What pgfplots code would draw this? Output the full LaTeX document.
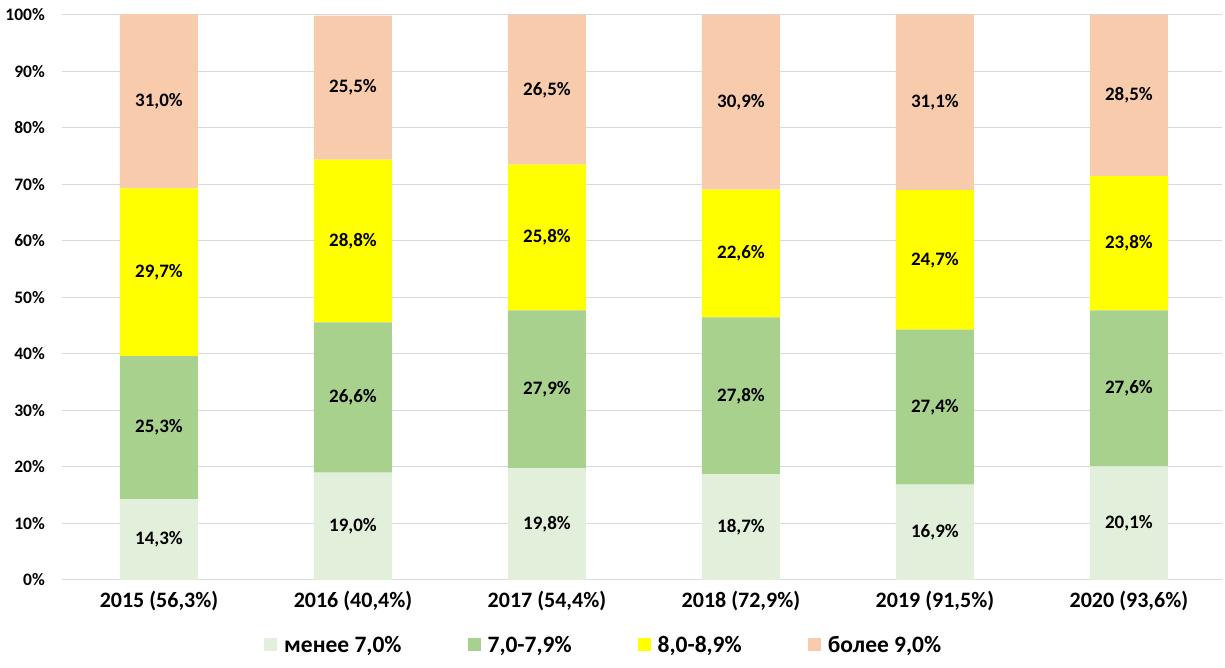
\documentclass[border=0pt]{standalone}
\usepackage{pgfplots}
\pgfplotsset{compat=1.18}
\usepackage{fontspec}
\setmainfont{Carlito}
\usetikzlibrary{calc}

\definecolor{cLow}{HTML}{E2EFDA}
\definecolor{cMid}{HTML}{A9D18E}
\definecolor{cHigh}{HTML}{FFFF00}
\definecolor{cTop}{HTML}{F8CBAD}
\definecolor{gridgray}{HTML}{D9D9D9}

\pgfplotsset{
  base/.style={
    width=1160pt, height=565pt, scale only axis,
    xmin=-0.5, xmax=5.48, ymin=0, ymax=100,
    /pgf/number format/assume math mode=true,
  }
}

\begin{document}
\begin{tikzpicture}
\begin{axis}[base, name=main,
  ybar stacked, bar width=78pt,
  axis line style={draw=none},
  tick style={draw=none},
  ymajorgrids, grid style={gridgray, line width=1pt},
  ytick={0,10,...,100},
  yticklabel={\pgfmathprintnumber{\tick}\%},
  yticklabel style={font=\fontsize{17.5}{19}\selectfont\bfseries, inner xsep=0pt, xshift=-17pt},
  xtick={0,...,5},
  xticklabels={{2015 (56,3\%)},{2016 (40,4\%)},{2017 (54,4\%)},{2018 (72,9\%)},{2019 (91,5\%)},{2020 (93,6\%)}},
  xticklabel style={font=\fontsize{22}{24}\selectfont\bfseries, yshift=-8pt},
  legend columns=4,
  legend style={draw=none, at={(0.467,-0.115)}, anchor=center,
    font=\fontsize{23.5}{25}\selectfont\bfseries,
    nodes={inner xsep=2pt},
    /tikz/every odd column/.append style={column sep=5pt},
    /tikz/every even column/.append style={column sep=64pt}},
  legend image code/.code={\fill[#1] (0pt,-6.5pt) rectangle (13pt,6.5pt);},
]
\addplot[fill=cLow, draw=none] coordinates {(0,14.3) (1,19.0) (2,19.8) (3,18.7) (4,16.9) (5,20.1)};
\addplot[fill=cMid, draw=none] coordinates {(0,25.3) (1,26.6) (2,27.9) (3,27.8) (4,27.4) (5,27.6)};
\addplot[fill=cHigh, draw=none] coordinates {(0,29.7) (1,28.8) (2,25.8) (3,22.6) (4,24.7) (5,23.8)};
\addplot[fill=cTop, draw=none] coordinates {(0,31.0) (1,25.5) (2,26.5) (3,30.9) (4,31.1) (5,28.5)};
\legend{менее 7{,}0\%, 7{,}0-7{,}9\%, 8{,}0-8{,}9\%, более 9{,}0\%}
\end{axis}

% value labels, centred in each segment
\begin{axis}[base, axis lines=none, ticks=none, clip=false]
\addplot[only marks, mark=none, point meta=explicit symbolic,
  nodes near coords, nodes near coords align=center,
  every node near coord/.append style={font=\fontsize{19}{21}\selectfont\bfseries, anchor=center}]
coordinates {
  (0,7.15)  [14,3\%] (0,26.95) [25,3\%] (0,54.45) [29,7\%] (0,84.65) [31,0\%]
  (1,9.5)   [19,0\%] (1,32.3)  [26,6\%] (1,60.0)  [28,8\%] (1,87.15) [25,5\%]
  (2,9.9)   [19,8\%] (2,33.75) [27,9\%] (2,60.6)  [25,8\%] (2,86.75) [26,5\%]
  (3,9.35)  [18,7\%] (3,32.6)  [27,8\%] (3,57.8)  [22,6\%] (3,84.55) [30,9\%]
  (4,8.45)  [16,9\%] (4,30.6)  [27,4\%] (4,56.65) [24,7\%] (4,84.5)  [31,1\%]
  (5,10.05) [20,1\%] (5,33.9)  [27,6\%] (5,59.6)  [23,8\%] (5,85.75) [28,5\%]
};
\end{axis}

\pgfresetboundingbox
\path ($(main.south west)+(-62pt,-88pt)$) rectangle ($(main.north east)+(3pt,15pt)$);
\end{tikzpicture}
\end{document}
